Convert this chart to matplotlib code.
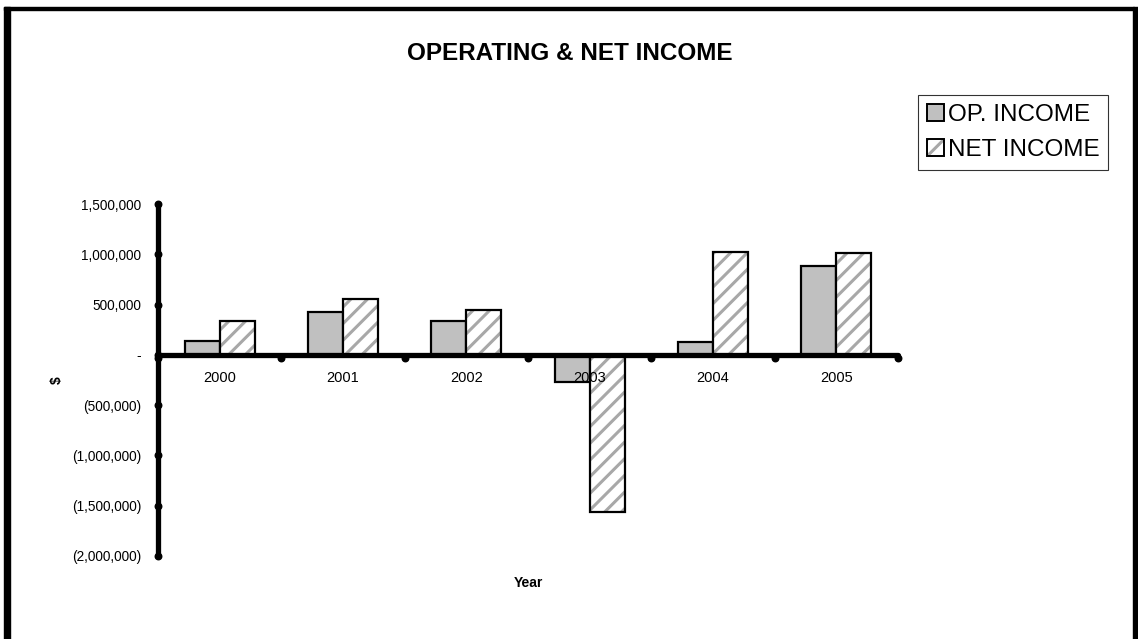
import matplotlib.pyplot as plt
from matplotlib.patches import Rectangle, Patch
from matplotlib.ticker import FuncFormatter
import numpy as np

plt.rcParams["font.family"] = ["Liberation Sans", "DejaVu Sans"]
plt.rcParams["hatch.linewidth"] = 2.2
plt.rcParams["hatch.color"] = "#a8a8a8"

years = ["2000", "2001", "2002", "2003", "2004", "2005"]
op_income = [135000, 430000, 335000, -265000, 130000, 885000]
net_income = [340000, 555000, 450000, -1560000, 1025000, 1010000]

W, H = 1138, 639
fig = plt.figure(figsize=(W / 100, H / 100), dpi=100)
ax = fig.add_axes([158 / W, 1 - 556 / H, 740 / W, 352 / H])

x = np.arange(len(years))
bw = 0.284

# op income: plain grey bars
ax.bar(x - bw / 2, op_income, bw, color="#c0c0c0", edgecolor="black", linewidth=1.6, zorder=2)
# net income: grey hatching underneath a black outline
ax.bar(x + bw / 2, net_income, bw, color="white", edgecolor="#a8a8a8", hatch="//",
       linewidth=0, zorder=2)
ax.bar(x + bw / 2, net_income, bw, color="none", edgecolor="black", linewidth=1.6, zorder=3)

ax.set_xlim(-0.5, len(years) - 0.5)
ax.set_ylim(-2000000, 1500000)
ax.set_yticks(np.arange(-2000000, 1500001, 500000))


def money(v, pos):
    if v == 0:
        return "-"
    if v < 0:
        return "({:,.0f})".format(-v)
    return "{:,.0f}".format(v)


ax.yaxis.set_major_formatter(FuncFormatter(money))
ax.tick_params(axis="y", length=0, pad=12, labelsize=9.8)
ax.set_xticks([])

for s in ["top", "right"]:
    ax.spines[s].set_visible(False)
ax.spines["bottom"].set_position(("data", 0))
for s in ["left", "bottom"]:
    ax.spines[s].set_linewidth(3.8)
    ax.spines[s].set_capstyle("round")
    ax.spines[s].set_zorder(5)

# round tick dots on both axes
ax.scatter(np.full(8, -0.5), ax.get_yticks(), s=22, color="black", clip_on=False, zorder=6)
ax.scatter(np.arange(len(years) + 1) - 0.5, np.zeros(len(years) + 1) - 35000, s=22,
           color="black", clip_on=False, zorder=6)

for i, yr in enumerate(years):
    ax.text(i, -230000, yr, ha="center", va="center", fontsize=10.5, zorder=4)

ax.set_facecolor("none")
fig.text(57 / W, 1 - 380 / H, "$", rotation=90, ha="center", va="center",
         fontsize=10, fontweight="bold")
fig.text(528 / W, 1 - 583 / H, "Year", ha="center", va="center", fontsize=10,
         fontweight="bold")
fig.text(570 / W, 1 - 54 / H, "OPERATING & NET INCOME", ha="center", va="center",
         fontsize=17.5, fontweight="bold")

h_op = Patch(facecolor="#c0c0c0", edgecolor="black", linewidth=1.4)
h_net = (Patch(facecolor="white", edgecolor="#a8a8a8", hatch="//", linewidth=0),
         Patch(facecolor="none", edgecolor="black", linewidth=1.4))
leg = fig.legend([h_op, h_net], ["OP. INCOME", "NET INCOME"], loc="upper left",
                 bbox_to_anchor=(918 / W, 1 - 95 / H), fontsize=17.5, frameon=True,
                 fancybox=False, edgecolor="black", handlelength=0.72, handleheight=0.72,
                 handletextpad=0.15, borderpad=0.35, labelspacing=0.55, borderaxespad=0)
leg.get_frame().set_linewidth(0.8)

# outer frame lines
fig.add_artist(Rectangle((4 / W, 0), 6 / W, 1 - 7 / H, transform=fig.transFigure,
                         color="black", zorder=10))
fig.add_artist(Rectangle((4 / W, 1 - 10 / H), 1130 / W, 3 / H, transform=fig.transFigure,
                         color="black", zorder=10))
fig.add_artist(Rectangle((1133 / W, 0), 5 / W, 1 - 7 / H, transform=fig.transFigure,
                         color="black", zorder=10))

fig.savefig("out.png", dpi=100, facecolor="white")
